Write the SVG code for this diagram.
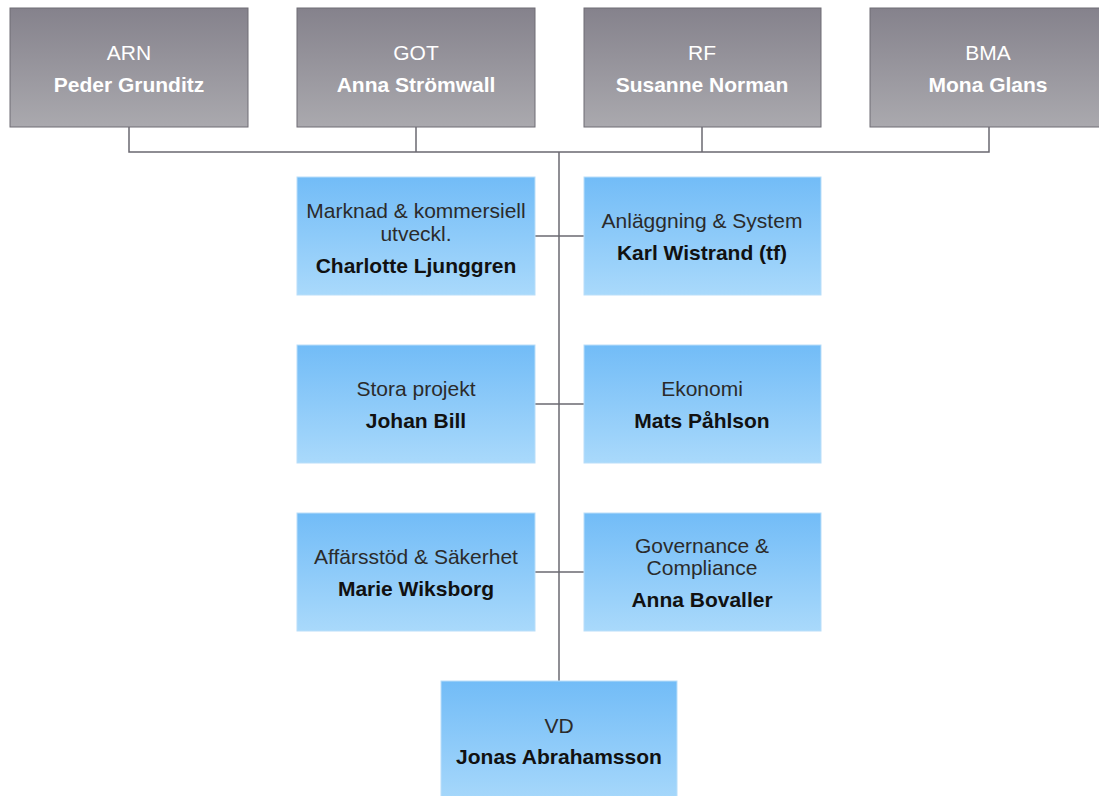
<svg xmlns="http://www.w3.org/2000/svg" width="1099" height="796" viewBox="0 0 1099 796">
<defs>
<linearGradient id="gGray" x1="0" y1="0" x2="0" y2="1">
<stop offset="0" stop-color="#85828c"/>
<stop offset="1" stop-color="#aaa9ae"/>
</linearGradient>
<linearGradient id="gBlue" x1="0" y1="0" x2="0" y2="1">
<stop offset="0" stop-color="#72bcf7"/>
<stop offset="1" stop-color="#a9d9fb"/>
</linearGradient>
<style>
.gbox{fill:url(#gGray);stroke:#6f6d74;stroke-width:1}
.bbox{fill:url(#gBlue);stroke:#b9def9;stroke-width:1}
text{font-family:"Liberation Sans",Arial,Helvetica,sans-serif;font-size:21px;text-anchor:middle}
.gt{fill:#ffffff}
.gn{fill:#ffffff;font-weight:bold}
.bt{fill:#2b2b2b}
.bn{fill:#111111;font-weight:bold}
.conn{fill:none;stroke:#6a6870;stroke-width:1.5}
</style>
</defs>
<g id="connectors">
<path class="conn" d="M129,127 V152 H989 V127"/>
<path class="conn" d="M416,127 V152"/>
<path class="conn" d="M702,127 V152"/>
<path class="conn" d="M559,152 V681" stroke="#4f4d55"/>
<path class="conn" d="M535,236 H584"/>
<path class="conn" d="M535,404 H584"/>
<path class="conn" d="M535,572 H584"/>
</g>
<g id="arn">
<rect class="gbox" x="10" y="8" width="238" height="119"/>
<text class="gt" x="129" y="60">ARN</text>
<text class="gn" x="129" y="92">Peder Grunditz</text>
</g>
<g id="got">
<rect class="gbox" x="297" y="8" width="238" height="119"/>
<text class="gt" x="416" y="60">GOT</text>
<text class="gn" x="416" y="92">Anna Strömwall</text>
</g>
<g id="rf">
<rect class="gbox" x="584" y="8" width="237" height="119"/>
<text class="gt" x="702" y="60">RF</text>
<text class="gn" x="702" y="92">Susanne Norman</text>
</g>
<g id="bma">
<rect class="gbox" x="870" y="8" width="238" height="119"/>
<text class="gt" x="988" y="60">BMA</text>
<text class="gn" x="988" y="92">Mona Glans</text>
</g>
<g id="marknad">
<rect class="bbox" x="297" y="177" width="238" height="118"/>
<text class="bt" x="416" y="218">Marknad &amp; kommersiell</text>
<text class="bt" x="416" y="241">utveckl.</text>
<text class="bn" x="416" y="273">Charlotte Ljunggren</text>
</g>
<g id="anlaggning">
<rect class="bbox" x="584" y="177" width="237" height="118"/>
<text class="bt" x="702" y="228">Anläggning &amp; System</text>
<text class="bn" x="702" y="260">Karl Wistrand (tf)</text>
</g>
<g id="stora">
<rect class="bbox" x="297" y="345" width="238" height="118"/>
<text class="bt" x="416" y="396">Stora projekt</text>
<text class="bn" x="416" y="428">Johan Bill</text>
</g>
<g id="ekonomi">
<rect class="bbox" x="584" y="345" width="237" height="118"/>
<text class="bt" x="702" y="396">Ekonomi</text>
<text class="bn" x="702" y="428">Mats Påhlson</text>
</g>
<g id="affarsstod">
<rect class="bbox" x="297" y="513" width="238" height="118"/>
<text class="bt" x="416" y="564">Affärsstöd &amp; Säkerhet</text>
<text class="bn" x="416" y="596">Marie Wiksborg</text>
</g>
<g id="governance">
<rect class="bbox" x="584" y="513" width="237" height="118"/>
<text class="bt" x="702" y="553">Governance &amp;</text>
<text class="bt" x="702" y="575">Compliance</text>
<text class="bn" x="702" y="607">Anna Bovaller</text>
</g>
<g id="vd">
<rect class="bbox" x="441" y="681" width="236" height="125"/>
<text class="bt" x="559" y="733">VD</text>
<text class="bn" x="559" y="764">Jonas Abrahamsson</text>
</g>
</svg>
